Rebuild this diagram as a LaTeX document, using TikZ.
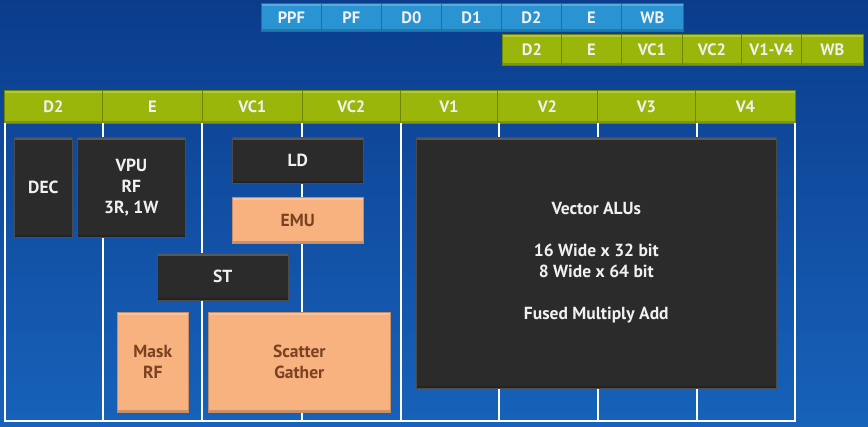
\documentclass[tikz,border=0pt]{standalone}
\usepackage{fontspec}
\setmainfont{PT Sans}
\definecolor{bgtop}{HTML}{0B3C8C}
\definecolor{bgbot}{HTML}{1762BA}
\definecolor{cellblue}{HTML}{2A94D2}
\definecolor{cellblueedge}{HTML}{1B6FAE}
\definecolor{cellgreen}{HTML}{9AB60B}
\definecolor{cellgreenedge}{HTML}{6E8606}
\definecolor{darkbox}{HTML}{2B2B2B}
\definecolor{orangebox}{HTML}{F7B27F}
\definecolor{orangetext}{HTML}{7A4222}
\definecolor{celltext}{HTML}{F0F0F0}
\begin{document}
\begin{tikzpicture}[x=1pt,y=-1pt,
  bevel/.style={path picture={
    \fill[white,opacity=0.22] (path picture bounding box.north west) rectangle ([yshift=-3pt]path picture bounding box.north east);
    \fill[black,opacity=0.18] (path picture bounding box.south west) rectangle ([yshift=2pt]path picture bounding box.south east);}},
  cell/.style={anchor=north west,inner sep=0pt,font=\fontsize{16.5}{18}\bfseries\selectfont,text=celltext,bevel},
  bluecell/.style={cell,fill=cellblue,draw=cellblueedge,line width=0.8pt},
  greencell/.style={cell,fill=cellgreen,draw=cellgreenedge,line width=0.8pt},
  blk/.style={anchor=north west,inner sep=0pt,align=center,font=\fontsize{17.5}{21}\bfseries\selectfont},
  darkblk/.style={blk,fill=darkbox,draw=black!70,line width=0.6pt,text=celltext,bevel},
  orangeblk/.style={blk,fill=orangebox,draw=orangebox!80!black,line width=0.6pt,text=orangetext,bevel},
  frame/.style={draw=white,line width=2pt}
]
\useasboundingbox (0,0) rectangle (868,427);
\shade[top color=bgtop,bottom color=bgbot] (0,0) rectangle (868,427);

% top blue pipeline
\node[bluecell,minimum width=60pt,minimum height=28pt] (b1) at (261,3) {PPF};
\node[bluecell,minimum width=60pt,minimum height=28pt] (b2) at (321,3) {PF};
\node[bluecell,minimum width=60pt,minimum height=28pt] (b3) at (381,3) {D0};
\node[bluecell,minimum width=60pt,minimum height=28pt] (b4) at (441,3) {D1};
\node[bluecell,minimum width=60pt,minimum height=28pt] (b5) at (501,3) {D2};
\node[bluecell,minimum width=60pt,minimum height=28pt] (b6) at (561,3) {E};
\node[bluecell,minimum width=62pt,minimum height=28pt] (b7) at (621,3) {WB};

% second green pipeline
\node[greencell,minimum width=59pt,minimum height=31pt] (g1) at (502,34) {D2};
\node[greencell,minimum width=60pt,minimum height=31pt] (g2) at (561,34) {E};
\node[greencell,minimum width=61pt,minimum height=31pt] (g3) at (621,34) {VC1};
\node[greencell,minimum width=59pt,minimum height=31pt] (g4) at (682,34) {VC2};
\node[greencell,minimum width=60pt,minimum height=31pt] (g5) at (741,34) {V1-V4};
\node[greencell,minimum width=62pt,minimum height=31pt] (g6) at (801,34) {WB};

% header row
\node[greencell,minimum width=98pt,minimum height=33pt] (h1) at (4,90) {D2};
\node[greencell,minimum width=100pt,minimum height=33pt] (h2) at (102,90) {E};
\node[greencell,minimum width=100pt,minimum height=33pt] (h3) at (202,90) {VC1};
\node[greencell,minimum width=98pt,minimum height=33pt] (h4) at (302,90) {VC2};
\node[greencell,minimum width=97pt,minimum height=33pt] (h5) at (400,90) {V1};
\node[greencell,minimum width=100pt,minimum height=33pt] (h6) at (497,90) {V2};
\node[greencell,minimum width=98pt,minimum height=33pt] (h7) at (597,90) {V3};
\node[greencell,minimum width=100pt,minimum height=33pt] (h8) at (695,90) {V4};

% white frame lines
\coordinate (fbl) at (5,421);
\coordinate (fbr) at (795,421);
\foreach \xx in {5,103,202,302,401,499,598,697,795}{
  \draw[frame] (\xx,123) -- (\xx,421);
}
\draw[frame] ([xshift=-1pt]fbl) -- ([xshift=1pt]fbr);

% blocks
\node[darkblk,minimum width=58pt,minimum height=100pt] (dec) at (14,137) {DEC};
\node[darkblk,minimum width=108pt,minimum height=100pt] (vpu) at (77,137) {VPU\\RF\\3R, 1W};
\node[darkblk,minimum width=131pt,minimum height=46pt] (ld) at (232,137) {LD};
\node[orangeblk,minimum width=131pt,minimum height=46pt] (emu) at (232,197) {EMU};
\node[darkblk,minimum width=131pt,minimum height=47pt] (st) at (157,253) {ST};
\node[orangeblk,minimum width=71pt,minimum height=100pt] (mask) at (117,312) {Mask\\RF};
\node[orangeblk,minimum width=182pt,minimum height=100pt] (sg) at (208,312) {Scatter\\Gather};
\node[darkblk,minimum width=360pt,minimum height=251pt] (valu) at (416,137)
  {Vector ALUs\\[21pt]16 Wide x 32 bit\\8 Wide x 64 bit\\[21pt]Fused Multiply Add};
\end{tikzpicture}
\end{document}
